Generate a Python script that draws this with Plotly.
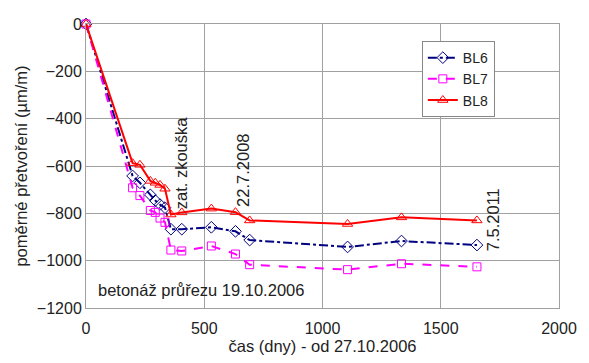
import plotly.graph_objects as go

days = [0, 197, 228, 272, 293, 313, 334, 359, 405, 530, 632, 692, 1106, 1334, 1653]
bl6 = [0, -642, -671, -722, -746, -763, -776, -867, -867, -859, -876, -913, -942, -917, -934]
bl7 = [0, -692, -725, -788, -796, -820, -838, -955, -959, -938, -972, -1017, -1038, -1013, -1026]
bl8 = [0, -588, -595, -663, -671, -680, -696, -805, -796, -780, -795, -830, -845, -817, -830]

FONT = "Liberation Sans, Arial, sans-serif"

fig = go.Figure()
fig.add_trace(go.Scatter(x=days, y=bl6, name="BL6", mode="lines+markers",
                         line=dict(color="#000080", width=2, dash="dashdot"),
                         marker=dict(symbol="diamond-open", size=9, color="#000080"),
                         cliponaxis=False))
fig.add_trace(go.Scatter(x=days, y=bl7, name="BL7", mode="lines+markers",
                         line=dict(color="#FF00FF", width=2, dash="dash"),
                         marker=dict(symbol="square-open", size=8, color="#FF00FF"),
                         cliponaxis=False))
fig.add_trace(go.Scatter(x=days, y=bl8, name="BL8", mode="lines+markers",
                         line=dict(color="#FF0000", width=2),
                         marker=dict(symbol="triangle-up-open", size=9, color="#FF0000"),
                         cliponaxis=False))

annots = [
    dict(x=405, y=-790, text="zat. zkouška", textangle=-90, xanchor="center", yanchor="bottom"),
    dict(x=663, y=-780, text="22.7.2008", textangle=-90, xanchor="center", yanchor="bottom"),
    dict(x=1724, y=-826, text="7.5.2011", textangle=-90, xanchor="center", yanchor="middle"),
    dict(x=43, y=-1122, text="betonáž průřezu 19.10.2006", textangle=0, xanchor="left", yanchor="middle"),
]
for a in annots:
    fig.add_annotation(xref="x", yref="y", showarrow=False,
                       font=dict(family=FONT, size=16.5, color="#222"), **a)

axis_common = dict(showgrid=True, gridcolor="#a0a0a0", gridwidth=1,
                   showline=True, linecolor="#a0a0a0", linewidth=1, mirror=True,
                   zeroline=False, ticks="", tickfont=dict(family=FONT, size=16, color="#222"))

fig.update_layout(
    width=589, height=363,
    margin=dict(l=86, r=20, t=24, b=51),
    paper_bgcolor="white", plot_bgcolor="white",
    font=dict(family=FONT, color="#222"),
    xaxis=dict(range=[0, 2000], tickvals=[0, 500, 1000, 1500, 2000], ticklabelstandoff=6,
               title=dict(text="čas (dny) - od 27.10.2006", font=dict(family=FONT, size=16.5), standoff=2),
               **axis_common),
    yaxis=dict(range=[-1200, 0], tickvals=[0, -200, -400, -600, -800, -1000, -1200],
               title=dict(text="poměrné přetvoření (µm/m)", font=dict(family=FONT, size=16.5), standoff=5),
               **axis_common),
    legend=dict(x=0.71, y=0.94, xanchor="left", yanchor="top",
                bgcolor="white", bordercolor="#888", borderwidth=1,
                font=dict(family=FONT, size=14, color="#222"),
                tracegroupgap=0, itemwidth=30),
    showlegend=True,
)

fig.write_html("out.html")
